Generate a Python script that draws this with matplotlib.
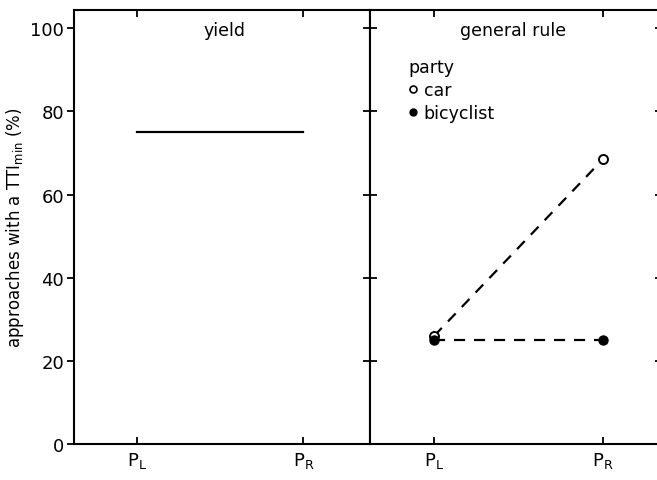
import matplotlib.pyplot as plt
from matplotlib.lines import Line2D

# data
positions = [0, 1]
position_labels = [r'P$_{\rm L}$', r'P$_{\rm R}$']
yield_values = [75, 75]
car_values = [26, 68.5]
bicyclist_values = [25, 25]

plt.rcParams['font.family'] = 'DejaVu Sans'
plt.rcParams['mathtext.default'] = 'regular'

fig = plt.figure(figsize=(6.57, 4.81), dpi=100)
ax1 = fig.add_axes([74 / 657, 36 / 481, 296 / 657, 434 / 481])
ax2 = fig.add_axes([370 / 657, 36 / 481, 292 / 657, 434 / 481])

for ax in (ax1, ax2):
    ax.set_ylim(0, 104.4)
    ax.set_xticks(positions)
    ax.set_xticklabels(position_labels, fontsize=13)
    ax.set_yticks([0, 20, 40, 60, 80, 100])
    for sp in ax.spines.values():
        sp.set_linewidth(1.5)
    ax.tick_params(axis='both', width=1.3, length=5, labelsize=13)
    ax.tick_params(axis='x', direction='in', top=True, pad=4)

ax1.set_xlim(-0.38, 1.40)
ax2.set_xlim(-0.38, 1.35)

ax1.tick_params(axis='y', direction='out', right=True, pad=2)
for t in ax1.yaxis.get_major_ticks():
    t.tick2line.set_marker(0)  # inward tick on the divider
ax2.tick_params(axis='y', direction='in', left=True, right=True, labelleft=False)

ax1.set_ylabel(r'approaches with a TTI$_{min}$ (%)', fontsize=12, labelpad=3)

ax1.plot(positions, yield_values, color='black', lw=1.6)
ax1.text(0.51, 0.975, 'yield', transform=ax1.transAxes, ha='center', va='top', fontsize=12.5)

ax2.plot(positions, car_values, color='black', lw=1.6, dashes=(5, 4),
         marker='o', mfc='white', mec='black', ms=6.5, mew=1.4)
ax2.plot(positions, bicyclist_values, color='black', lw=1.6, dashes=(5, 4),
         marker='o', mfc='black', mec='black', ms=6.5)
ax2.text(0.49, 0.975, 'general rule', transform=ax2.transAxes, ha='center', va='top', fontsize=12.5)

handles = [Line2D([], [], ls='none', marker='o', mfc='white', mec='black', ms=5, mew=1.2),
           Line2D([], [], ls='none', marker='o', mfc='black', mec='black', ms=5)]
leg = ax2.legend(handles, ['car', 'bicyclist'], title='party', loc='upper left',
                 bbox_to_anchor=(0.1, 0.91), frameon=False, fontsize=12.5,
                 title_fontsize=12.5, handlelength=0.6, handletextpad=0.3,
                 labelspacing=0.3, borderpad=0, alignment='left')

plt.savefig('out.png', dpi=100)
